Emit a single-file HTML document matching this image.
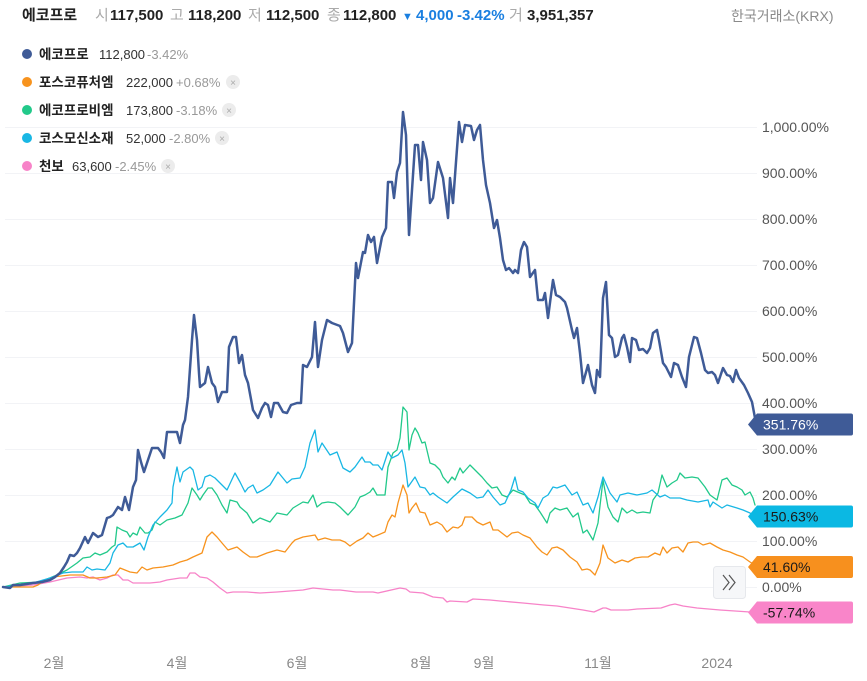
<!DOCTYPE html>
<html><head><meta charset="utf-8"><style>
html,body{margin:0;padding:0;background:#fff;}
svg{display:block;font-family:"Liberation Sans","Noto Sans CJK KR",sans-serif;}
</style></head><body>
<svg width="867" height="681" viewBox="0 0 867 681" xmlns="http://www.w3.org/2000/svg">
<rect width="867" height="681" fill="#fff"/>
<!-- gridlines -->
<g stroke="#f2f3f6" stroke-width="1">
<line x1="5" y1="127.5" x2="757" y2="127.5"/><line x1="5" y1="173.5" x2="757" y2="173.5"/>
<line x1="5" y1="219.5" x2="757" y2="219.5"/><line x1="5" y1="265.5" x2="757" y2="265.5"/>
<line x1="5" y1="311.5" x2="757" y2="311.5"/><line x1="5" y1="357.5" x2="757" y2="357.5"/>
<line x1="5" y1="403.5" x2="757" y2="403.5"/><line x1="5" y1="449.5" x2="757" y2="449.5"/>
<line x1="5" y1="495.5" x2="757" y2="495.5"/><line x1="5" y1="541.5" x2="757" y2="541.5"/>
<line x1="5" y1="587.5" x2="757" y2="587.5"/>
</g>
<!-- header -->
<g font-size="15" fill="#222">
<text x="22" y="20" font-weight="bold">에코프로</text>
<text x="95" y="20" fill="#aaa">시</text><text x="110" y="20" font-weight="bold">117,500</text>
<text x="170" y="20" fill="#aaa">고</text><text x="188" y="20" font-weight="bold">118,200</text>
<text x="248" y="20" fill="#aaa">저</text><text x="266" y="20" font-weight="bold">112,500</text>
<text x="327" y="20" fill="#aaa">종</text><text x="343" y="20" font-weight="bold">112,800</text>
<text x="402" y="20" fill="#1a7fe0" font-size="11">▼</text>
<text x="416" y="20" font-weight="bold" fill="#1a7fe0">4,000</text>
<text x="457" y="20" font-weight="bold" fill="#1a7fe0">-3.42%</text>
<text x="509" y="20" fill="#aaa">거</text><text x="527" y="20" font-weight="bold">3,951,357</text>
<text x="731" y="21" fill="#8a8a8a" font-size="14">한국거래소(KRX)</text>
</g>
<!-- legend -->
<g font-size="13">
<circle cx="27" cy="54" r="5" fill="#3f5b97"/>
<text x="39" y="59" font-weight="bold" fill="#222" font-size="13.5">에코프로</text><text x="99" y="59" fill="#333">112,800</text><text x="147" y="59" fill="#999">-3.42%</text>

<circle cx="27" cy="82" r="5" fill="#f7931e"/>
<text x="39" y="87" font-weight="bold" fill="#222" font-size="13.5">포스코퓨처엠</text><text x="126" y="87" fill="#333">222,000</text><text x="176" y="87" fill="#999">+0.68%</text>
<circle cx="233" cy="82" r="7" fill="#ececec"/><text x="233" y="86" font-size="10" fill="#aaa" text-anchor="middle">×</text>

<circle cx="27" cy="110" r="5" fill="#22c98a"/>
<text x="39" y="115" font-weight="bold" fill="#222" font-size="13.5">에코프로비엠</text><text x="126" y="115" fill="#333">173,800</text><text x="176" y="115" fill="#999">-3.18%</text>
<circle cx="229" cy="110" r="7" fill="#ececec"/><text x="229" y="114" font-size="10" fill="#aaa" text-anchor="middle">×</text>

<circle cx="27" cy="138" r="5" fill="#19b7e4"/>
<text x="39" y="143" font-weight="bold" fill="#222" font-size="13.5">코스모신소재</text><text x="126" y="143" fill="#333">52,000</text><text x="169" y="143" fill="#999">-2.80%</text>
<circle cx="222" cy="138" r="7" fill="#ececec"/><text x="222" y="142" font-size="10" fill="#aaa" text-anchor="middle">×</text>

<circle cx="27" cy="166" r="5" fill="#f783c8"/>
<text x="39" y="171" font-weight="bold" fill="#222" font-size="13.5">천보</text><text x="72" y="171" fill="#333">63,600</text><text x="115" y="171" fill="#999">-2.45%</text>
<circle cx="168" cy="166" r="7" fill="#ececec"/><text x="168" y="170" font-size="10" fill="#aaa" text-anchor="middle">×</text>
</g>
<!-- series -->
<g fill="none" stroke-linejoin="round" stroke-linecap="round">
<polyline stroke="#f783c8" stroke-width="1.3" points="3,587 33,585 50,582 67,578 80,577 87,578 93,577 100,580 107,578 113,575 118,575 123,580 128,580 133,583 150,583 160,582 167,580 180,578 187,578 190,573 195,573 200,577 207,578 213,582 220,588 227,593 233,592 247,592 260,593 277,592 290,591 303,590 313,588 333,590 340,590 356,592 373,592 378,593 400,588 406,589 410,592 423,593 433,597 443,598 447,602 450,601 467,602 473,599 490,600 500,601 523,603 544,605 557,606 570,608 583,610 594,612 603,608 606,608 611,610 628,610 637,609 661,608 670,605 675,604 683,606 697,608 720,610 750,612"/>
<polyline stroke="#f7931e" stroke-width="1.3" points="3,587 33,587 38,585 45,580 53,577 70,575 83,575 90,578 97,578 107,577 115,575 120,568 125,570 130,572 137,573 142,567 147,570 153,568 163,567 173,565 180,562 187,560 193,557 202,553 207,537 212,532 217,537 222,543 228,550 237,547 243,552 250,557 257,557 267,553 277,550 285,552 292,543 295,540 303,537 315,535 318,540 325,538 332,540 340,540 345,542 350,546 357,541 363,538 368,533 373,537 378,535 385,532 388,522 392,515 395,517 398,503 403,485 407,495 409,513 412,508 416,503 420,512 425,513 430,525 437,522 442,525 447,532 453,527 458,528 462,525 465,517 472,517 477,522 483,525 490,522 493,530 498,530 507,537 512,533 518,532 523,535 530,538 537,547 542,552 547,555 552,548 557,547 563,550 570,557 577,562 582,570 587,569 590,570 595,575 600,563 603,545 608,558 615,563 622,560 628,562 635,558 642,557 648,557 655,553 660,555 663,547 667,553 672,548 678,547 683,552 688,543 693,542 698,542 703,545 710,543 717,547 723,550 730,552 737,555 743,557 750,562 755,565"/>
<polyline stroke="#22c98a" stroke-width="1.3" points="3,587 20,583 40,582 57,575 67,570 77,563 83,558 90,557 95,553 100,555 107,552 112,547 115,545 117,527 122,530 127,532 130,537 133,533 137,535 140,527 145,533 148,533 152,530 155,522 160,525 167,520 175,518 182,515 188,503 192,488 197,495 200,500 203,495 208,488 212,488 217,495 222,505 227,513 230,500 237,502 240,507 247,513 253,523 260,518 270,522 277,513 287,515 293,508 298,505 303,502 308,503 313,495 317,507 322,503 328,502 335,503 340,507 345,512 348,515 355,507 360,497 365,495 370,492 373,488 377,495 385,495 388,467 393,453 397,450 400,438 403,407 407,412 409,450 412,435 415,428 418,433 422,443 425,442 430,463 435,465 440,470 443,477 448,483 452,477 455,480 460,468 463,473 470,465 475,470 482,477 487,483 492,488 497,487 502,495 507,497 513,490 520,493 525,495 530,503 535,505 540,512 547,523 550,513 555,508 560,510 567,508 573,517 578,513 583,533 587,530 593,540 598,523 603,480 608,507 613,517 618,522 622,508 627,513 632,510 637,513 643,512 650,513 653,500 658,493 662,475 667,487 672,483 677,480 680,473 685,478 692,477 698,478 705,487 710,495 717,500 722,480 727,478 732,485 737,487 742,490 745,495 750,492 753,498 755,505"/>
<polyline stroke="#19b7e4" stroke-width="1.3" points="3,587 20,585 33,583 50,578 63,573 72,572 83,572 87,567 92,570 97,569 105,570 110,563 113,553 118,545 123,543 127,547 133,547 140,543 144,550 148,537 153,525 160,517 167,510 172,503 173,487 177,467 180,482 183,472 190,467 193,470 198,490 202,487 205,477 210,475 215,478 220,483 227,490 235,473 240,482 245,492 248,488 253,485 257,493 263,490 270,485 278,472 287,483 292,479 300,478 305,467 310,443 315,430 318,452 322,443 330,455 337,452 343,468 350,472 355,467 362,457 365,462 370,462 373,465 378,465 382,470 388,452 392,458 398,455 402,450 405,463 408,487 415,477 420,487 425,488 430,495 433,493 438,497 447,503 453,497 462,489 470,493 477,498 483,497 488,490 493,497 500,505 505,503 511,490 515,477 518,490 523,492 528,498 535,503 538,508 543,498 548,495 553,487 557,488 565,485 572,495 577,492 583,505 588,503 593,513 598,497 603,477 610,493 617,502 620,495 628,493 637,495 647,493 652,490 660,497 665,495 670,498 680,498 687,500 698,502 708,500 710,507 713,502 722,508 727,505 737,508 743,510 750,513 755,517"/>
<polyline stroke="#3f5b97" stroke-width="2.5" points="3,587 10,588 13,585 20,585 33,583 42,582 50,580 55,577 60,573 64,567 67,562 70,555 74,556 77,553 80,548 85,537 88,543 93,533 98,537 102,535 107,518 110,517 113,515 118,507 122,510 125,497 129,510 133,487 136,480 138,450 141,462 144,472 148,460 152,448 158,448 161,452 164,458 167,432 177,432 180,443 183,425 185,420 188,397 192,340 194,315 197,340 199,373 200,387 205,383 208,367 212,383 215,387 218,402 222,392 227,392 229,347 233,337 236,337 239,363 242,355 245,375 248,383 253,410 258,418 262,408 265,403 268,405 271,417 274,403 278,403 283,412 287,413 291,405 297,403 301,403 303,365 307,367 312,357 315,322 318,367 322,340 327,320 332,323 340,326 343,333 348,352 352,343 356,263 358,278 363,252 365,253 368,235 371,242 374,237 377,263 382,237 386,228 388,182 392,182 394,198 397,172 400,163 403,112 406,135 409,235 415,145 418,145 421,180 423,142 427,160 430,203 433,198 438,162 443,178 448,218 450,178 453,203 456,162 459,122 462,142 465,125 471,126 474,140 477,130 480,125 483,160 486,185 490,203 494,228 497,220 500,238 503,260 506,270 509,268 513,273 515,270 518,273 521,250 524,242 527,247 530,277 535,270 538,300 543,300 545,293 548,318 551,295 553,280 556,295 560,297 565,302 567,308 572,330 574,338 577,328 580,353 583,383 588,365 592,385 595,393 597,370 600,377 603,298 606,282 609,335 612,338 615,357 618,355 622,338 624,335 627,347 630,362 632,338 636,340 639,350 643,349 647,353 650,348 653,333 657,330 659,340 663,363 666,367 671,377 674,363 678,365 682,377 686,387 689,357 694,337 697,338 701,353 705,370 708,373 712,372 715,375 718,383 723,368 727,375 730,376 733,382 736,370 739,378 744,385 748,393 752,402 755,418 756,424"/>
</g>
<!-- y axis labels -->
<g font-size="14" fill="#555">
<text x="762" y="132">1,000.00%</text>
<text x="762" y="178">900.00%</text>
<text x="762" y="224">800.00%</text>
<text x="762" y="270">700.00%</text>
<text x="762" y="316">600.00%</text>
<text x="762" y="362">500.00%</text>
<text x="762" y="408">400.00%</text>
<text x="762" y="454">300.00%</text>
<text x="762" y="500">200.00%</text>
<text x="762" y="546">100.00%</text>
<text x="762" y="592">0.00%</text>
</g>
<!-- tags -->
<g font-size="14">
<path d="M748,424.5 L757,413.5 L851,413.5 Q853,413.5 853,415.5 L853,433.5 Q853,435.5 851,435.5 L757,435.5 Z" fill="#3f5b97"/>
<text x="763" y="429.5" fill="#fff">351.76%</text>
<path d="M748,516.5 L757,505.5 L851,505.5 Q853,505.5 853,507.5 L853,525.5 Q853,527.5 851,527.5 L757,527.5 Z" fill="#0bb8e3"/>
<text x="763" y="521.5" fill="#1a1a1a">150.63%</text>
<path d="M748,567 L757,556 L851,556 Q853,556 853,558 L853,576 Q853,578 851,578 L757,578 Z" fill="#f7901e"/>
<text x="763" y="572" fill="#1a1a1a">41.60%</text>
<path d="M748,612.5 L757,601.5 L851,601.5 Q853,601.5 853,603.5 L853,621.5 Q853,623.5 851,623.5 L757,623.5 Z" fill="#f985c9"/>
<text x="763" y="617.5" fill="#1a1a1a">-57.74%</text>
</g>
<!-- scroll button -->
<rect x="713.5" y="566.5" width="32" height="32" rx="3" fill="#f6f7f9" stroke="#e6e8ec"/>
<g fill="none" stroke="#555" stroke-width="1.2">
<polyline points="723,575 729,582.5 723,590"/>
<polyline points="729,575 735,582.5 729,590"/>
</g>
<!-- x axis labels -->
<g font-size="14" fill="#888" text-anchor="middle">
<text x="54" y="668">2월</text>
<text x="177" y="668">4월</text>
<text x="297" y="668">6월</text>
<text x="421" y="668">8월</text>
<text x="484" y="668">9월</text>
<text x="598" y="668">11월</text>
<text x="717" y="668">2024</text>
</g>
</svg>
</body></html>
